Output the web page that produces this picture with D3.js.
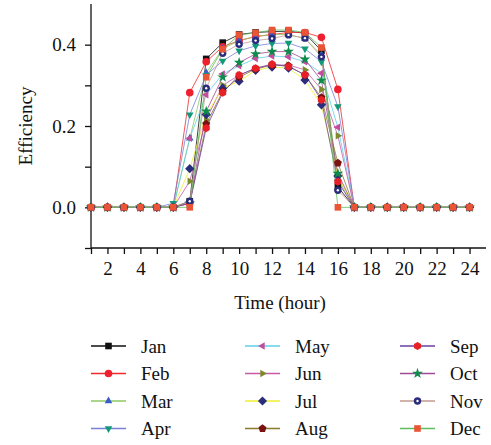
<html>
<head>
<meta charset="UTF-8">
<title>Efficiency</title>
<script src="https://cdn.jsdelivr.net/npm/d3@7"></script>
<style>
  body { margin: 0; background: #fff; }
  text { font-family: "Liberation Serif", "DejaVu Serif", serif; fill: #111; }
</style>
</head>
<body>
<svg id="chart" width="491" height="445"></svg>
<script>
// hours 1..24
var hours = d3.range(1, 25);
var months = ["Jan", "Feb", "Mar", "Apr", "May", "Jun", "Jul", "Aug", "Sep", "Oct", "Nov", "Dec"];
var xTicks = d3.range(1, 25);
var xLabels = [2, 4, 6, 8, 10, 12, 14, 16, 18, 20, 22, 24];
var yTicks = [-0.1, 0.0, 0.1, 0.2, 0.3, 0.4];
var yLabels = [0.0, 0.2, 0.4];

//         1  2  3  4  5  6     7      8      9      10     11     12     13     14     15     16     17 18 19 20 21 22 23 24
var jan = [0, 0, 0, 0, 0, 0,    0.015, 0.365, 0.405, 0.425, 0.430, 0.432, 0.433, 0.428, 0.385, 0.050, 0, 0, 0, 0, 0, 0, 0, 0];
var feb = [0, 0, 0, 0, 0, 0,    0.282, 0.358, 0.395, 0.410, 0.420, 0.425, 0.430, 0.430, 0.418, 0.290, 0, 0, 0, 0, 0, 0, 0, 0];
var mar = [0, 0, 0, 0, 0, 0,    0.170, 0.331, 0.390, 0.410, 0.420, 0.425, 0.425, 0.415, 0.375, 0.070, 0, 0, 0, 0, 0, 0, 0, 0];
var apr = [0, 0, 0, 0, 0, 0.01, 0.228, 0.325, 0.360, 0.385, 0.397, 0.403, 0.404, 0.390, 0.358, 0.248, 0, 0, 0, 0, 0, 0, 0, 0];
var may = [0, 0, 0, 0, 0, 0,    0.170, 0.277, 0.328, 0.348, 0.366, 0.372, 0.370, 0.358, 0.330, 0.197, 0, 0, 0, 0, 0, 0, 0, 0];
var jun = [0, 0, 0, 0, 0, 0,    0.064, 0.215, 0.300, 0.325, 0.342, 0.350, 0.350, 0.338, 0.290, 0.176, 0, 0, 0, 0, 0, 0, 0, 0];
var jul = [0, 0, 0, 0, 0, 0,    0.095, 0.228, 0.293, 0.310, 0.337, 0.345, 0.342, 0.313, 0.252, 0.077, 0, 0, 0, 0, 0, 0, 0, 0];
var aug = [0, 0, 0, 0, 0, 0,    0.010, 0.205, 0.285, 0.320, 0.340, 0.350, 0.348, 0.325, 0.270, 0.109, 0, 0, 0, 0, 0, 0, 0, 0];
var sep = [0, 0, 0, 0, 0, 0,    0.010, 0.195, 0.282, 0.325, 0.342, 0.352, 0.346, 0.326, 0.264, 0.063, 0, 0, 0, 0, 0, 0, 0, 0];
var oct = [0, 0, 0, 0, 0, 0,    0.010, 0.236, 0.320, 0.356, 0.377, 0.383, 0.383, 0.364, 0.312, 0.083, 0, 0, 0, 0, 0, 0, 0, 0];
var nov = [0, 0, 0, 0, 0, 0,    0.015, 0.293, 0.379, 0.401, 0.410, 0.415, 0.424, 0.416, 0.370, 0.042, 0, 0, 0, 0, 0, 0, 0, 0];
var dec = [0, 0, 0, 0, 0, 0,    0,     0.320, 0.389, 0.424, 0.429, 0.436, 0.436, 0.430, 0.393, 0,     0, 0, 0, 0, 0, 0, 0, 0];
var values = [jan, feb, mar, apr, may, jun, jul, aug, sep, oct, nov, dec];

// line colour / marker colour / marker shape per month
var lineColors = ["#111111", "#ee2a2a", "#8cc860", "#7a80d8", "#5fd0e6", "#c858a8", "#eeee30", "#8a7a30", "#6a40a0", "#a04a94", "#c29a90", "#5cbf5c"];
var markColors = ["#111111", "#ee2030", "#3a5cc8", "#109a7a", "#c24c9e", "#7d8a2c", "#2a2c7c", "#7a1212", "#e82028", "#0e8a4a", "#2a2c7c", "#ea5536"];
var shapes = ["square", "circle", "up", "down", "left", "right", "diamond", "pentagon", "hexagon", "star", "dotcircle", "square"];

var svg = d3.select("#chart");
var x = d3.scaleLinear().domain([1, 25]).range([91, 486]);
var y = d3.scaleLinear().domain([-0.1, 0.5]).range([248, 4]);

function polygon(n, r, rot) {
    var pts = [];
    for (var i = 0; i < n; i++) {
        var a = rot + i * 2 * Math.PI / n;
        pts.push([r * Math.sin(a), -r * Math.cos(a)]);
    }
    return "M" + pts.join("L") + "Z";
}
function drawMark(g, shape, color) {
    if (shape == "square") {
        g.append("rect").attr("x", -3.3).attr("y", -3.3).attr("width", 6.6).attr("height", 6.6).attr("fill", color);
    } else if (shape == "circle") {
        g.append("circle").attr("r", 3.8).attr("fill", color);
    } else if (shape == "dotcircle") {
        g.append("circle").attr("r", 3.7).attr("fill", color);
        g.append("circle").attr("r", 1.2).attr("fill", "#fff");
    } else if (shape == "up") {
        g.append("path").attr("d", polygon(3, 4.4, 0)).attr("fill", color);
    } else if (shape == "down") {
        g.append("path").attr("d", polygon(3, 4.4, Math.PI)).attr("fill", color);
    } else if (shape == "left") {
        g.append("path").attr("d", polygon(3, 4.4, -Math.PI / 2)).attr("fill", color);
    } else if (shape == "right") {
        g.append("path").attr("d", polygon(3, 4.4, Math.PI / 2)).attr("fill", color);
    } else if (shape == "diamond") {
        g.append("path").attr("d", polygon(4, 4.6, 0)).attr("fill", color);
    } else if (shape == "pentagon") {
        g.append("path").attr("d", polygon(5, 4.2, 0)).attr("fill", color);
    } else if (shape == "hexagon") {
        g.append("path").attr("d", polygon(6, 4.1, 0)).attr("fill", color);
    } else if (shape == "star") {
        g.append("path").attr("d", d3.symbol().type(d3.symbolStar).size(36)()).attr("fill", color);
    }
}

// axes
var xAxis = d3.axisBottom(x).tickValues(xTicks).tickSize(6)
    .tickFormat(function (d) { return xLabels.indexOf(d) >= 0 ? d : ""; });
var gx = svg.append("g").attr("transform", "translate(0,248)").call(xAxis);
gx.select(".domain").attr("d", "M91,0H486").attr("stroke", "#111").attr("stroke-width", 1.3);
gx.selectAll(".tick line").attr("stroke", "#111").attr("stroke-width", 1.3);
gx.selectAll(".tick text").attr("font-size", 19).attr("font-family", "Liberation Serif").attr("dy", "0.95em").attr("fill", "#111");

var yAxis = d3.axisLeft(y).tickValues(yTicks).tickSize(6)
    .tickFormat(function (d) {
        return yLabels.some(function (v) { return Math.abs(v - d) < 1e-9; }) ? d3.format(".1f")(d) : "";
    });
var gy = svg.append("g").attr("transform", "translate(91,0)").call(yAxis);
gy.select(".domain").attr("d", "M0,4V248").attr("stroke", "#111").attr("stroke-width", 1.3);
gy.selectAll(".tick line").attr("stroke", "#111").attr("stroke-width", 1.3);
gy.selectAll(".tick text").attr("font-size", 19).attr("font-family", "Liberation Serif").attr("x", -15).attr("fill", "#111");

svg.append("text").attr("x", 280).attr("y", 309).attr("text-anchor", "middle")
    .attr("font-size", 19).text("Time (hour)");
svg.append("text").attr("transform", "translate(32,126) rotate(-90)").attr("text-anchor", "middle")
    .attr("font-size", 19).text("Efficiency");

// series
var line = d3.line().x(function (d, i) { return x(hours[i]); }).y(function (d) { return y(d); });
var plot = svg.append("g");
values.forEach(function (vals, k) {
    plot.append("path").attr("d", line(vals)).attr("fill", "none")
        .attr("stroke", lineColors[k]).attr("stroke-width", 0.8);
});
values.forEach(function (vals, k) {
    vals.forEach(function (v, i) {
        var g = plot.append("g").attr("transform", "translate(" + x(hours[i]) + "," + y(v) + ")");
        drawMark(g, shapes[k], markColors[k]);
    });
});

// legend
var colX = [91, 245, 400];
var rowY = [346, 373.5, 401, 428.5];
months.forEach(function (m, k) {
    var cx = colX[Math.floor(k / 4)], cy = rowY[k % 4];
    var lg = svg.append("g").attr("transform", "translate(" + cx + "," + cy + ")");
    lg.append("line").attr("x1", 0).attr("x2", 35).attr("y1", 0).attr("y2", 0)
        .attr("stroke", lineColors[k]).attr("stroke-width", 1.3);
    var mg = lg.append("g").attr("transform", "translate(17.5,0)");
    drawMark(mg, shapes[k], markColors[k]);
    lg.append("text").attr("x", 50).attr("y", 6.5).attr("font-size", 19).text(m);
});
</script>
</body>
</html>
